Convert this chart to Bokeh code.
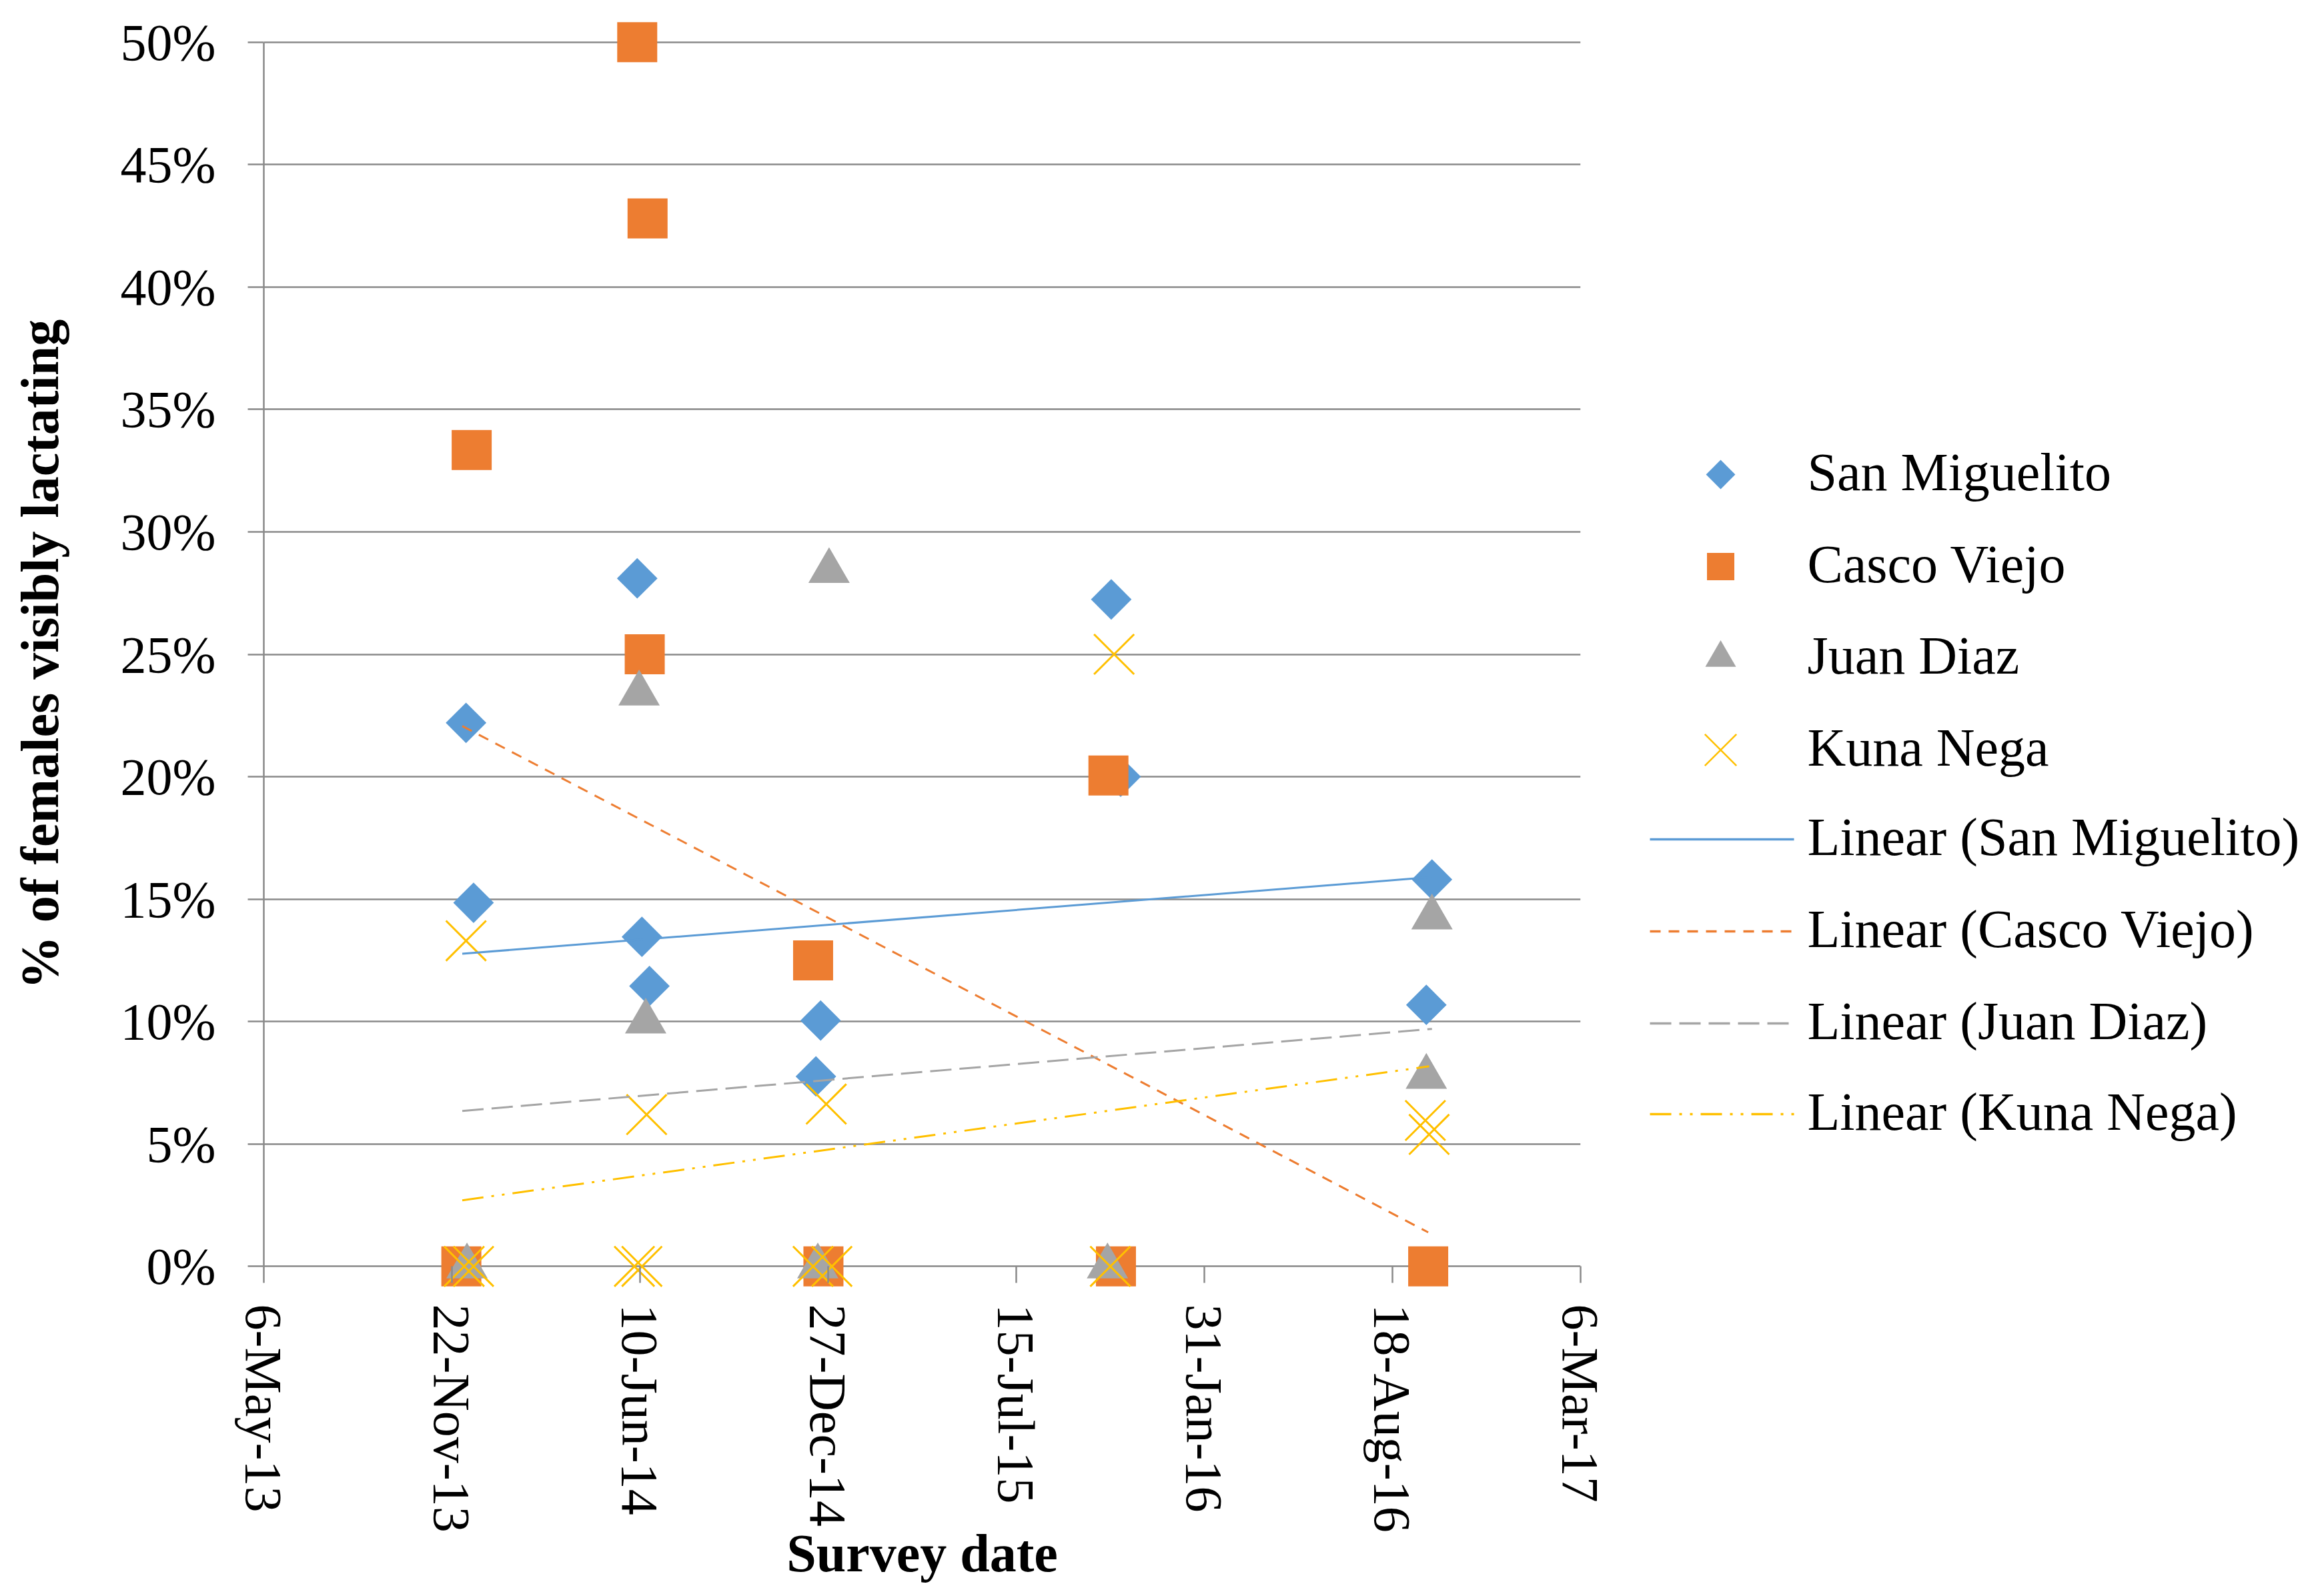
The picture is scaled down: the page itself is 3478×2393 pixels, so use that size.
import numpy as np
import pandas as pd
from bokeh.plotting import figure
from bokeh.layouts import row
from bokeh.models import ColumnDataSource, Range1d, FixedTicker
from bokeh.embed import file_html
from bokeh.resources import INLINE
from bokeh.core.properties import value

# ---------------- data ----------------
series_names = ["San Miguelito", "Casco Viejo", "Juan Diaz", "Kuna Nega"]
trend_names = ["Linear (San Miguelito)", "Linear (Casco Viejo)", "Linear (Juan Diaz)", "Linear (Kuna Nega)"]

san_dates = ["2013-12-07", "2013-12-15", "2014-06-07", "2014-06-12", "2014-06-20", "2014-12-19",
             "2014-12-14", "2015-10-24", "2015-11-03", "2016-09-29", "2016-09-23"]
san_values = [22.2, 14.85, 28.1, 13.46, 11.45, 10.04, 7.76, 27.24, 20.0, 15.8, 10.68]

casco_dates = ["2013-12-02", "2013-12-13", "2014-06-07", "2014-06-18", "2014-06-15", "2014-12-11",
               "2014-12-22", "2015-10-21", "2015-10-29", "2016-09-25"]
casco_values = [0.0, 33.34, 50.0, 42.8, 25.0, 12.5, 0.0, 20.05, 0.0, 0.0]

juan_dates = ["2013-12-08", "2014-06-09", "2014-06-16", "2014-12-16", "2014-12-28", "2015-10-20",
              "2016-09-29", "2016-09-23"]
juan_values = [0.0, 23.4, 10.0, 0.0, 28.4, 0.0, 14.25, 7.74]

kuna_dates = ["2013-12-05", "2013-12-07", "2013-12-15", "2014-06-04", "2014-06-12", "2014-06-17",
              "2014-12-11", "2014-12-25", "2014-12-31", "2015-10-23", "2015-10-27", "2016-09-22",
              "2016-09-26"]
kuna_values = [0.0, 13.3, 0.0, 0.0, 0.0, 6.2, 0.0, 6.63, 0.0, 0.0, 25.0, 5.96, 5.39]

# linear trend lines (end points)
trend_start_dates = ["2013-12-03", "2013-12-03", "2013-12-03", "2013-12-03"]
trend_end_dates = ["2016-09-29", "2016-09-25", "2016-09-29", "2016-09-26"]
trend_start_values = [12.77, 22.07, 6.35, 2.70]
trend_end_values = [15.9, 1.39, 9.7, 8.17]

x_tick_dates = ["2013-05-06", "2013-11-22", "2014-06-10", "2014-12-27",
                "2015-07-15", "2016-01-31", "2016-08-18", "2017-03-06"]
x_tick_labels = ["6-May-13", "22-Nov-13", "10-Jun-14", "27-Dec-14",
                 "15-Jul-15", "31-Jan-16", "18-Aug-16", "6-Mar-17"]
y_ticks = [0, 5, 10, 15, 20, 25, 30, 35, 40, 45, 50]
y_tick_labels = ["0%", "5%", "10%", "15%", "20%", "25%", "30%", "35%", "40%", "45%", "50%"]

# ---------------- styles ----------------
BLUE, ORANGE, GREY, GOLD = "#5B9BD5", "#ED7D31", "#A5A5A5", "#FFC000"
AXIS_GREY = "#8a8a8a"
FONT = "Liberation Serif"

def ms(d):
    return int(pd.Timestamp(d).value // 10**6)

x_ticks_ms = [ms(d) for d in x_tick_dates]

# The frame extends 1 % below 0 and above 50 so that the markers there are not clipped.
TOTAL_W, TOTAL_H = 3462, 2377
LEFT, RIGHT, TOP, BOTTOM = 395, 52, 26, 442
W1 = 2421
W2 = TOTAL_W - W1
FRAME_H = TOTAL_H - TOP - BOTTOM

p = figure(x_axis_type="datetime",
           x_range=Range1d(start=pd.Timestamp(x_tick_dates[0]), end=pd.Timestamp(x_tick_dates[-1])),
           y_range=Range1d(start=-1, end=51),
           width=W1, height=TOTAL_H,
           min_border_left=LEFT, min_border_right=RIGHT,
           min_border_top=TOP, min_border_bottom=BOTTOM,
           output_backend="svg", toolbar_location=None)
p.align = "start"
p.outline_line_color = None
p.background_fill_color = "white"
p.border_fill_color = "white"
p.xgrid.visible = False
p.ygrid.grid_line_color = AXIS_GREY
p.ygrid.grid_line_width = 2.5
p.ygrid.ticker = FixedTicker(ticks=y_ticks)

for ax in (p.xaxis[0], p.yaxis[0]):
    ax.axis_line_color = AXIS_GREY
    ax.axis_line_width = 2.5
    ax.major_tick_line_color = AXIS_GREY
    ax.major_tick_line_width = 2.5
    ax.minor_tick_line_color = None
    ax.major_label_text_font = FONT
    ax.major_label_text_font_size = "78px"
    ax.major_label_text_color = "black"
    ax.axis_label_text_font = FONT
    ax.axis_label_text_font_size = "80px"
    ax.axis_label_text_font_style = "bold"
    ax.axis_label_text_color = "black"

# x axis sits on the frame edge (1 % below zero); its ticks reach up to the 0 % line
p.xaxis.axis_line_color = None
p.xaxis.major_tick_in = 37
p.xaxis.major_tick_out = -12
p.xaxis.ticker = FixedTicker(ticks=x_ticks_ms)
p.xaxis.major_label_overrides = {t: l for t, l in zip(x_ticks_ms, x_tick_labels)}
p.xaxis.major_label_orientation = "vertical"
p.xaxis.major_label_standoff = 20
p.xaxis.axis_label = "Survey date"
p.xaxis.axis_label_standoff = -16

p.yaxis.major_tick_in = 0
p.yaxis.major_tick_out = 24
p.yaxis.ticker = FixedTicker(ticks=y_ticks)
p.yaxis.major_label_overrides = {t: l for t, l in zip(y_ticks, y_tick_labels)}
p.yaxis.major_label_standoff = 48
p.yaxis.axis_label = "% of females visibly lactating"
p.yaxis.axis_label_standoff = 74
p.yaxis.bounds = (0, 50)

def src(dates, vals):
    return ColumnDataSource(dict(date=pd.to_datetime(dates), val=vals))

p.scatter(x="date", y="val", source=src(san_dates, san_values), marker="square",
          angle=np.pi / 4, size=43, fill_color=BLUE, line_color=None)
p.scatter(x="date", y="val", source=src(casco_dates, casco_values), marker="square",
          size=60, fill_color=ORANGE, line_color=None)
p.scatter(x="date", y="val", source=src(juan_dates, juan_values), marker="triangle",
          size=62, fill_color=GREY, line_color=None)
p.scatter(x="date", y="val", source=src(kuna_dates, kuna_values), marker="x",
          size=85, line_color=GOLD, line_width=3)

trend_colors = [BLUE, ORANGE, GREY, GOLD]
trend_dashes = ["solid", "16 12", "32 12", "32 12 4 12 4 12"]
for i in range(4):
    p.line(x=pd.to_datetime([trend_start_dates[i], trend_end_dates[i]]),
           y=[trend_start_values[i], trend_end_values[i]],
           line_color=trend_colors[i], line_dash=trend_dashes[i], line_width=3)

# ---------------- legend panel (frame aligned with the main frame) ----------------
leg = figure(width=W2, height=TOTAL_H, x_range=Range1d(0, W2),
             y_range=Range1d(TOP + FRAME_H, TOP),
             min_border_left=0, min_border_right=0,
             min_border_top=TOP, min_border_bottom=BOTTOM,
             x_axis_location=None, y_axis_location=None,
             output_backend="svg", toolbar_location=None)
leg.align = "start"
leg.outline_line_color = None
leg.background_fill_color = "white"
leg.border_fill_color = "white"
leg.xgrid.visible = False
leg.ygrid.visible = False

off_x = W1
rows = [711, 849, 986, 1124, 1258, 1396, 1534, 1670]
mx = 2579 - off_x
lx0, lx1 = 2473 - off_x, 2689 - off_x
tx = 2709 - off_x

leg.scatter(x=[mx], y=[rows[0]], marker="square", angle=np.pi / 4, size=31,
            fill_color=BLUE, line_color=None)
leg.scatter(x=[mx], y=[rows[1]], marker="square", size=41,
            fill_color=ORANGE, line_color=None)
leg.scatter(x=[mx], y=[rows[2]], marker="triangle", size=46,
            fill_color=GREY, line_color=None)
leg.scatter(x=[mx], y=[rows[3]], marker="x", size=67,
            line_color=GOLD, line_width=2.5)
for i in range(4):
    yy = rows[4 + i]
    leg.line(x=[lx0, lx1], y=[yy, yy], line_color=trend_colors[i],
             line_dash=trend_dashes[i], line_width=3.5)

leg.text(x=[tx] * 8, y=[r - 4 for r in rows], text=series_names + trend_names,
         text_font=value(FONT), text_font_size="80px", text_color="black",
         text_baseline="middle", text_align="left")

layout = row(p, leg)
open("out.html", "w").write(file_html(layout, INLINE))
